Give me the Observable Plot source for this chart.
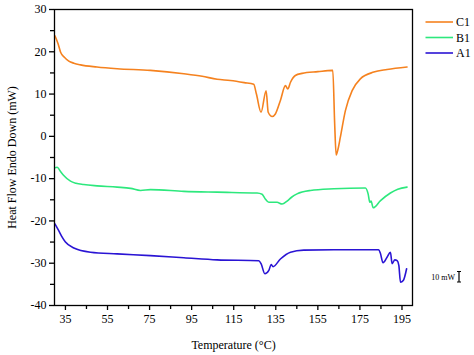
<!DOCTYPE html>
<html>
<head>
<meta charset="utf-8">
<script src="https://cdn.jsdelivr.net/npm/d3@7"></script>
<script src="https://cdn.jsdelivr.net/npm/@observablehq/plot@0.6"></script>
<style>
  html, body { margin: 0; padding: 0; background: #fff; }
  #chart { width: 474px; height: 355px; }
</style>
</head>
<body>
<div id="chart"></div>
<script>
// Series names and colours
const seriesNames = ["C1", "B1", "A1"];
const seriesColors = ["#f5821f", "#2de87d", "#2a14d4"];

// C1 (orange)
const tempC1 = [30, 31.5, 32.7, 34.5, 36.6, 39, 42.2, 50, 59.6, 75.4, 91.3, 100, 107.1, 113.4, 120, 124.5, 125.8, 128.0, 130.4, 131.4, 133.3, 134.8, 137.2, 139.6, 140.7, 142.0, 144.3, 147.5, 155, 161.8, 162.1, 163.0, 163.7, 164.6, 165.7, 168.1, 171.3, 175.2, 181.6, 187.9, 197.4];
const valueC1 = [23.8, 21.9, 19.9, 18.7, 17.8, 17.3, 16.9, 16.4, 16.0, 15.6, 14.8, 14.2, 13.5, 13.2, 12.7, 12.3, 10.0, 5.7, 10.8, 5.7, 4.7, 5.3, 8.5, 12.0, 11.2, 12.8, 14.4, 14.9, 15.3, 15.6, 15.6, 3.0, -4.4, -3.0, -0.2, 6.1, 10.8, 13.6, 15.2, 15.8, 16.4];

// B1 (green)
const tempB1 = [30, 31.1, 32.5, 34.2, 37.4, 40, 43.7, 50, 59.6, 66, 70.7, 75.4, 91.3, 107.1, 126.1, 128.5, 130, 131.7, 135.6, 138.0, 140.4, 142.5, 145.1, 151.5, 162.6, 177.6, 178.9, 179.7, 180.3, 181.3, 184.8, 189.5, 193, 197.4];
const valueB1 = [-7.4, -7.3, -8.2, -9.25, -10.6, -11.1, -11.4, -11.7, -12.0, -12.3, -12.8, -12.6, -13.0, -13.2, -13.4, -13.7, -14.8, -15.6, -15.6, -16.0, -15.3, -14.4, -13.6, -12.8, -12.4, -12.2, -13.6, -15.6, -15.3, -16.9, -15.2, -13.4, -12.5, -12.0];

// A1 (blue)
const tempA1 = [30, 31.8, 33.3, 35.0, 39.0, 46.9, 59.6, 75.4, 91.3, 107.1, 126.9, 128.0, 129.8, 131.7, 132.8, 133.7, 137.2, 142.0, 148.3, 162.6, 183.9, 184.7, 186.0, 187.9, 189.5, 190.3, 191.6, 192.7, 193.5, 194.3, 195.6, 197.2];
const valueA1 = [-20.7, -22.3, -23.7, -25.0, -26.4, -27.4, -27.8, -28.2, -28.7, -29.2, -29.4, -30.1, -32.5, -31.7, -30.3, -30.8, -29.0, -27.4, -26.9, -26.8, -26.8, -27.6, -29.9, -28.6, -27.4, -30.1, -29.2, -29.4, -30.5, -34.5, -34.1, -31.3];

// Axis ticks
const xTicks = [35, 55, 75, 95, 115, 135, 155, 175, 195];
const xMinorTicks = [45, 65, 85, 105, 125, 145, 165, 185];
const yTicks = [-40, -30, -20, -10, 0, 10, 20, 30];
const yMinorTicks = [-35, -25, -15, -5, 5, 15, 25];

const seriesT = [tempC1, tempB1, tempA1];
const seriesV = [valueC1, valueB1, valueA1];
const rows = [];
seriesNames.forEach((name, i) => {
  seriesT[i].forEach((t, j) => rows.push({series: name, t, v: seriesV[i][j]}));
});

const font = "'Liberation Serif', 'DejaVu Serif', serif";

const chart = Plot.plot({
  width: 474,
  height: 355,
  marginLeft: 54,
  marginRight: 62,
  marginTop: 9,
  marginBottom: 50,
  style: {fontFamily: font, fontSize: "12px", color: "#000", background: "#fff"},
  x: {domain: [29.8, 200]},
  y: {domain: [-40, 30]},
  color: {domain: seriesNames, range: seriesColors},
  marks: [
    Plot.line(rows, {x: "t", y: "v", z: "series", stroke: "series", strokeWidth: 1.6, curve: "monotone-x"}),
    Plot.frame({stroke: "#000", strokeWidth: 1.3}),
    Plot.axisY({ticks: yTicks, tickSize: 5, tickPadding: 3, stroke: "#000", strokeWidth: 1.3,
      label: "Heat Flow Endo Down (mW)", labelAnchor: "center", labelArrow: "none", labelOffset: 47,
      tickFormat: d => d < 0 ? "-" + Math.abs(d) : String(d)}),
    Plot.axisY({ticks: yMinorTicks, tickSize: 4, text: null, label: null, stroke: "#000", strokeWidth: 1.3}),
    Plot.axisX({ticks: xTicks, tickSize: 5, tickPadding: 4, stroke: "#000", strokeWidth: 1.3,
      label: "Temperature (°C)", labelAnchor: "center", labelArrow: "none", labelOffset: 43}),
    Plot.axisX({ticks: xMinorTicks, tickSize: 4, text: null, label: null, stroke: "#000", strokeWidth: 1.3})
  ]
});

document.getElementById("chart").appendChild(chart);

// Legend and scale bar drawn into the same SVG
const svg = d3.select(chart);
const leg = svg.append("g").attr("font-family", font).attr("font-size", 12).attr("text-anchor", "start");
seriesNames.forEach((name, i) => {
  const y = 22 + i * 15.5;
  leg.append("line").attr("x1", 425.5).attr("x2", 453).attr("y1", y).attr("y2", y)
    .attr("stroke", seriesColors[i]).attr("stroke-width", 1.6);
  leg.append("text").attr("x", 456).attr("y", y).attr("dy", "0.35em").attr("text-anchor", "start")
    .attr("fill", "#000").text(name);
});
const sb = svg.append("g").attr("font-family", font);
sb.append("text").attr("x", 455).attr("y", 277).attr("dy", "0.35em").attr("text-anchor", "end")
  .attr("font-size", 8).attr("fill", "#000").text("10 mW");
sb.append("line").attr("x1", 459).attr("x2", 459).attr("y1", 271.5).attr("y2", 282).attr("stroke", "#000").attr("stroke-width", 1.2);
sb.append("line").attr("x1", 457).attr("x2", 461).attr("y1", 271.5).attr("y2", 271.5).attr("stroke", "#000").attr("stroke-width", 1);
sb.append("line").attr("x1", 457).attr("x2", 461).attr("y1", 282).attr("y2", 282).attr("stroke", "#000").attr("stroke-width", 1);
</script>
</body>
</html>
